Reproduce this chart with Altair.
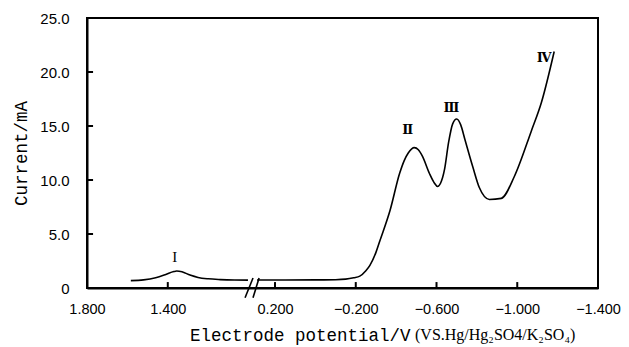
import altair as alt
import pandas as pd

# ---- data ----
left_E = [1.583, 1.52, 1.46, 1.41, 1.37, 1.356, 1.33, 1.29, 1.25, 1.20, 1.14, 1.07, 1.003]
left_I = [0.68, 0.75, 0.95, 1.25, 1.52, 1.57, 1.50, 1.20, 0.98, 0.85, 0.78, 0.74, 0.73]

right_E = [0.289, 0.15, 0.0, -0.10, -0.15, -0.19, -0.22, -0.25, -0.27, -0.30, -0.32,
           -0.37, -0.417, -0.44, -0.46, -0.49, -0.51, -0.53, -0.565, -0.59, -0.605,
           -0.62, -0.64, -0.66, -0.68, -0.70, -0.72, -0.74, -0.78, -0.812, -0.862,
           -0.921, -0.985, -1.069, -1.12, -1.183]
right_I = [0.74, 0.74, 0.75, 0.77, 0.82, 0.95, 1.1, 1.6, 2.1, 3.3, 4.4,
           7.2, 10.6, 11.8, 12.5, 13.0, 12.8, 12.2, 10.6, 9.7, 9.4,
           9.7, 11.0, 13.5, 15.2, 15.65, 15.1, 13.8, 11.2, 9.3, 8.2,
           8.3, 10.3, 14.5, 17.2, 21.9]

peak_labels = ["I", "Ⅱ", "Ⅲ", "Ⅳ"]
peak_E = [1.365, -0.457, -0.674, -1.133]
peak_I = [2.9, 14.6, 16.7, 21.3]

x_ticks = [1.8, 1.4, 0.2, -0.2, -0.6, -1.0, -1.4]
y_ticks = [0, 5, 10, 15, 20, 25]

# axis break (left segment ends / right segment starts)
break_left_E = 0.988
break_right_E = 0.319

E_min, E_max = -1.4, 1.8
I_min, I_max = 0, 25
tick_len_I = 0.55      # inward x-tick length in current units
tick_len_E = 0.03      # inward y-tick length in potential units

curve = pd.DataFrame({
    "E": left_E + right_E,
    "I": left_I + right_I,
    "seg": ["a"] * len(left_E) + ["b"] * len(right_E),
})
labels = pd.DataFrame({"E": peak_E, "I": peak_I, "t": peak_labels})

inner_x = [v for v in x_ticks if v not in (E_max, E_min)]
inner_y = [v for v in y_ticks if v not in (I_min, I_max)]
frame = pd.DataFrame({
    "E1": inner_x + [E_max] * len(inner_y) + [E_max, E_min],
    "E2": inner_x + [E_max - tick_len_E] * len(inner_y) + [E_min, E_min],
    "I1": [I_min] * len(inner_x) + inner_y + [I_max, I_min],
    "I2": [tick_len_I] * len(inner_x) + inner_y + [I_max, I_max],
})
brk = pd.DataFrame({"E1": [1.0174, 0.309], "E2": [0.309, 0.279], "I1": [-0.9, -0.9], "I2": [0.93, 0.93]})

W, H = 511, 270
xscale = alt.Scale(domain=[E_max, break_left_E, break_right_E, E_min], range=[0, 164, 164, W],
                   zero=False, nice=False)
yscale = alt.Scale(domain=[I_min, I_max], zero=False, nice=False)

xaxis = alt.Axis(values=x_ticks, format=".3f", ticks=False, tickSize=0, labelPadding=14,
                 labelFont="Liberation Sans", labelFontSize=14.5, labelColor="black",
                 domainColor="black", domainWidth=2, grid=False, labelOverlap=False,
                 labelFlush=False, labelBound=False, title=None)
yaxis = alt.Axis(values=y_ticks, labelExpr="datum.value == 0 ? '0' : format(datum.value, '.1f')",
                 ticks=False, tickSize=0, labelPadding=18,
                 labelFont="Liberation Sans", labelFontSize=15, labelColor="black",
                 domainColor="black", domainWidth=2, grid=False, labelOverlap=False,
                 labelFlush=False, labelBound=False,
                 title="Current/mA", titleFont="Liberation Mono", titleFontSize=17.5,
                 titleFontWeight="normal", titleColor="black", titleAngle=270,
                 titleX=-66, titleY=H / 2, titleBaseline="middle", titleAlign="center")

X = lambda f="E": alt.X(f"{f}:Q", scale=xscale, axis=xaxis)
Y = lambda f="I": alt.Y(f"{f}:Q", scale=yscale, axis=yaxis)

line = alt.Chart(curve).mark_line(color="black", strokeWidth=1.6, interpolate="monotone").encode(
    x=X(), y=Y(), detail="seg:N")

lab_I = alt.Chart(labels.iloc[[0]]).mark_text(font="Liberation Serif", fontSize=15,
                                               color="black", baseline="middle").encode(
    x=X(), y=Y(), text="t:N")
lab_rest = alt.Chart(labels.iloc[1:]).mark_text(font="DejaVu Serif", fontSize=13, fontWeight="bold",
                                                color="black", baseline="middle").encode(
    x=X(), y=Y(), text="t:N")

frame_rules = alt.Chart(frame).mark_rule(color="black", strokeWidth=2).encode(
    x=X("E1"), x2="E2:Q", y=Y("I1"), y2="I2:Q")
break_rules = alt.Chart(brk).mark_rule(color="black", strokeWidth=1.6).encode(
    x=X("E1"), x2="E2:Q", y=Y("I1"), y2="I2:Q")

title1 = alt.Chart(pd.DataFrame({"t": ["Electrode potential/V"]})).mark_text(
    font="Liberation Mono", fontSize=17.5, color="black", align="left", baseline="alphabetic").encode(
    x=alt.value(103), y=alt.value(323), text="t:N")
title2 = alt.Chart(pd.DataFrame({"t": ["(VS.Hg/Hg₂SO4/K₂SO₄)"]})).mark_text(
    font="Liberation Serif", fontSize=16, color="black", align="left", baseline="alphabetic").encode(
    x=alt.value(328), y=alt.value(322), text="t:N")

chart = alt.layer(line, frame_rules, break_rules, lab_I, lab_rest, title1, title2).properties(
    width=W, height=H,
    background="white",
    autosize=alt.AutoSizeParams(type="none"),
    padding={"left": 79, "top": 10, "right": 23, "bottom": 57},
).configure_view(stroke="black", strokeWidth=2)

chart.save("out.html", embed_options={"renderer": "svg", "actions": False})
